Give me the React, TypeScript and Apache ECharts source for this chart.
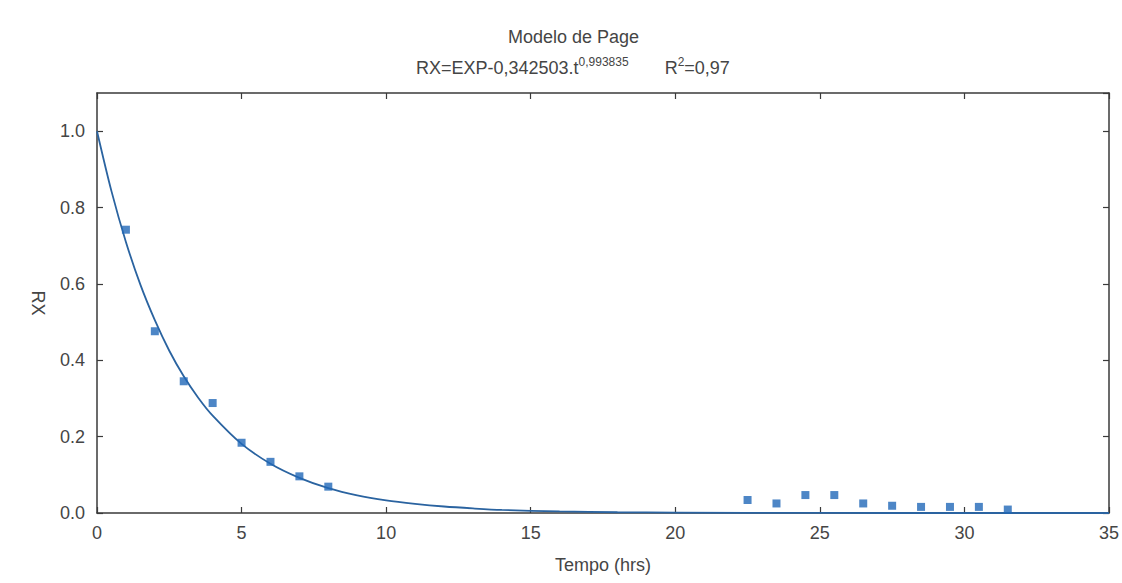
import React, { useEffect, useRef } from "react";
import * as echarts from "echarts";

const observedT = [1, 2, 3, 4, 5, 6, 7, 8, 22.5, 23.5, 24.5, 25.5, 26.5, 27.5, 28.5, 29.5, 30.5, 31.5];
const observedRX = [0.742, 0.476, 0.345, 0.288, 0.184, 0.134, 0.096, 0.069, 0.034, 0.025, 0.047, 0.047, 0.025, 0.019, 0.016, 0.016, 0.016, 0.009];

const fitT = [0, 0.5, 1, 1.5, 2, 2.5, 3, 3.5, 4, 5, 6, 7, 8, 9, 10, 11, 12, 13, 14, 16, 18, 20, 25, 30, 35];
const fitRX = [1.0, 0.843, 0.71, 0.598, 0.505, 0.425, 0.358, 0.302, 0.255, 0.181, 0.129, 0.092, 0.065, 0.046, 0.033, 0.024, 0.017, 0.012, 0.008, 0.004, 0.002, 0.001, 0.0002, 0.0, 0.0];

const yTicks = [0.0, 0.2, 0.4, 0.6, 0.8, 1.0];

const textColor = "#454545";
const axisColor = "#3a3a3a";
const font = "Liberation Sans, Arial, sans-serif";
const fs = 18;

export default function App() {
  const ref = useRef<HTMLDivElement>(null);
  useEffect(() => {
    if (!ref.current) return;
    const chart = echarts.init(ref.current, undefined, { renderer: "svg" });
    const scatter = observedT.map((t, i) => [t, observedRX[i]]);
    const fit = fitT.map((t, i) => [t, fitRX[i]]);
    chart.setOption({
      animation: false,
      backgroundColor: "#ffffff",
      textStyle: { fontFamily: font },
      title: [
        {
          text: "Modelo de Page",
          left: 503,
          top: 23,
          textStyle: { fontFamily: font, fontSize: fs, fontWeight: "normal", color: textColor },
        },
        {
          text: "{n|RX=EXP-0,342503.t}{sup|0,993835}{gap|}{n|R}{sup2|2}{n|=0,97}",
          left: 411,
          top: 51,
          textStyle: {
            fontFamily: font,
            fontSize: fs,
            fontWeight: "normal",
            color: textColor,
            rich: {
              n: { fontFamily: font, fontSize: fs, color: textColor, lineHeight: 24 },
              sup: { fontFamily: font, fontSize: 12, color: textColor, verticalAlign: "top", lineHeight: 13 },
              sup2: { fontFamily: font, fontSize: 12, color: textColor, verticalAlign: "top", lineHeight: 13 },
              gap: { width: 36 },
            },
          },
        },
      ],
      grid: { left: 97, right: 8, top: 93, bottom: 70, containLabel: false },
      xAxis: [
        {
          type: "value",
          min: 0,
          max: 35,
          interval: 5,
          name: "Tempo (hrs)",
          nameLocation: "middle",
          nameGap: 43,
          nameTextStyle: { fontFamily: font, fontSize: fs, color: textColor },
          axisLine: { show: true, onZero: false, lineStyle: { color: axisColor, width: 1.5 } },
          axisTick: { show: true, inside: true, length: 6, lineStyle: { color: axisColor, width: 1.2 } },
          axisLabel: { fontFamily: font, fontSize: fs, color: textColor, margin: 11, showMaxLabel: true },
          splitLine: { show: false },
        },
        {
          type: "value",
          position: "top",
          min: 0,
          max: 35,
          interval: 5,
          axisLine: { show: true, onZero: false, lineStyle: { color: axisColor, width: 1.5 } },
          axisTick: { show: true, inside: true, length: 6, lineStyle: { color: axisColor, width: 1.2 } },
          axisLabel: { show: false },
          splitLine: { show: false },
        },
      ],
      yAxis: [
        {
          type: "value",
          min: 0,
          max: 1.1,
          interval: 0.2,
          name: "RX",
          nameLocation: "middle",
          nameRotate: -90,
          nameGap: 50,
          nameTextStyle: { fontFamily: font, fontSize: fs, color: textColor },
          axisLine: { show: true, onZero: false, lineStyle: { color: axisColor, width: 1.5 } },
          axisTick: { show: true, inside: true, length: 6, lineStyle: { color: axisColor, width: 1.2 } },
          axisLabel: {
            fontFamily: font,
            fontSize: fs,
            color: textColor,
            margin: 12,
            showMaxLabel: false,
            formatter: (v: number) => (yTicks.some((t) => Math.abs(t - v) < 1e-6) ? v.toFixed(1) : ""),
          },
          splitLine: { show: false },
        },
        {
          type: "value",
          position: "right",
          min: 0,
          max: 1.1,
          interval: 0.2,
          axisLine: { show: true, onZero: false, lineStyle: { color: axisColor, width: 1.5 } },
          axisTick: { show: true, inside: true, length: 6, lineStyle: { color: axisColor, width: 1.2 } },
          axisLabel: { show: false },
          splitLine: { show: false },
        },
      ],
      series: [
        {
          type: "line",
          data: fit,
          smooth: 0.3,
          showSymbol: false,
          symbol: "none",
          lineStyle: { color: "#2a63a0", width: 1.8 },
          z: 2,
        },
        {
          type: "scatter",
          data: scatter,
          symbol: "rect",
          symbolSize: 8,
          itemStyle: { color: "#2168b8" },
          z: 3,
        },
      ],
    });
    return () => chart.dispose();
  }, []);
  return <div ref={ref} style={{ width: 1122, height: 583, position: "absolute", left: 0, top: 0 }} />;
}
